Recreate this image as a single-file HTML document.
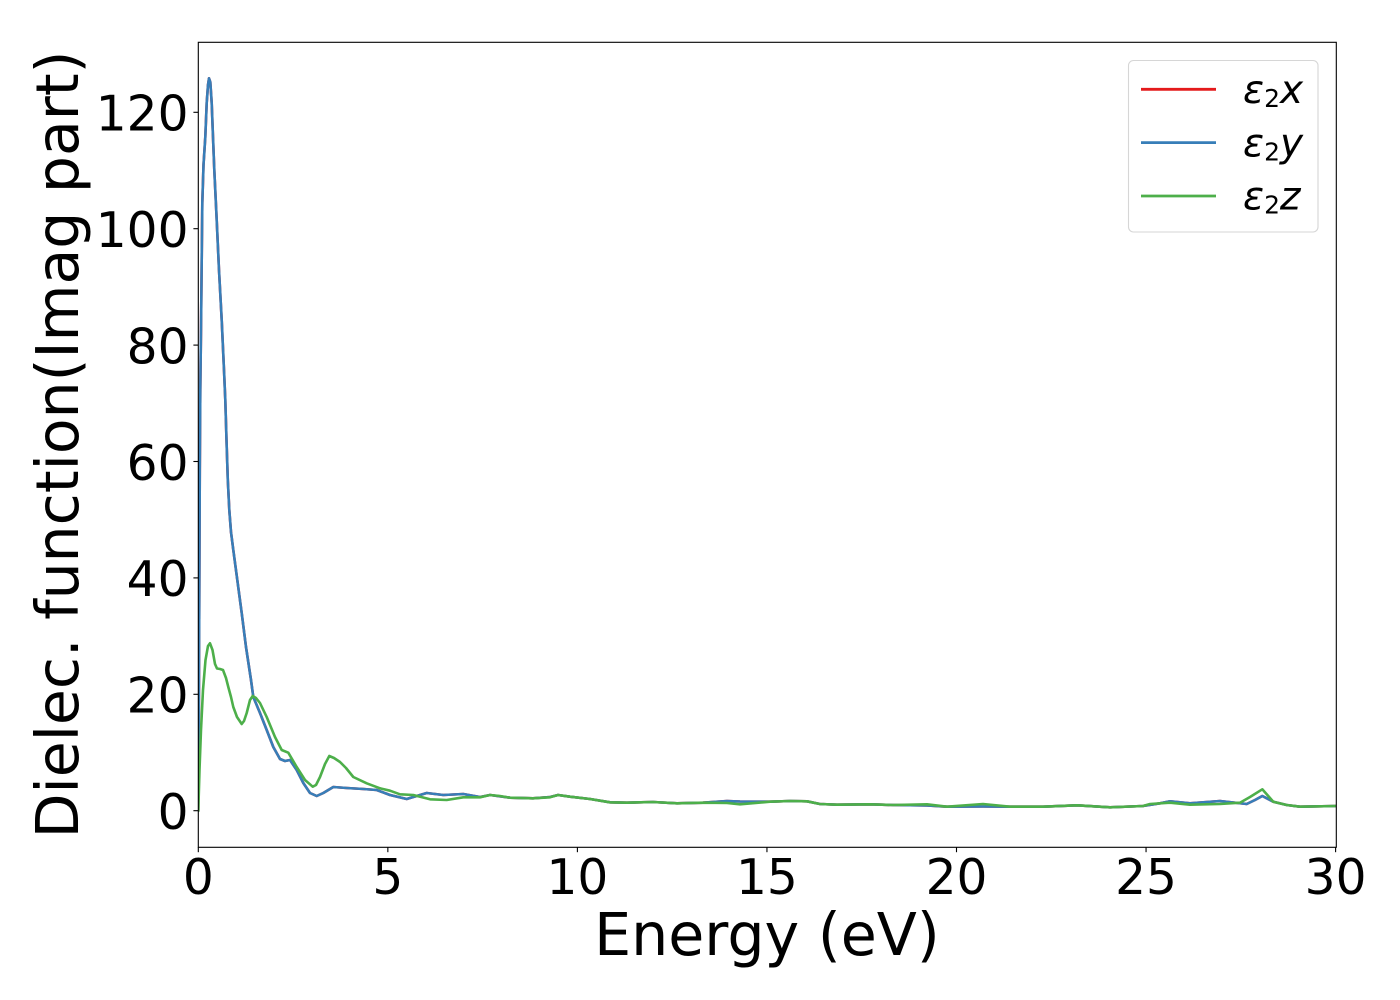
<!DOCTYPE html>
<html><head><meta charset="utf-8"><style>
html,body{margin:0;padding:0;background:#fff;}
svg{display:block;}
text{font-family:"DejaVu Sans","Liberation Sans",sans-serif;fill:#000;}
</style></head><body>
<svg width="1400" height="1000" viewBox="0 0 1400 1000" xmlns="http://www.w3.org/2000/svg">
<rect width="1400" height="1000" fill="#fff"/>
<defs><clipPath id="c"><rect x="198.3" y="42.3" width="1138" height="805"/></clipPath></defs>
<g clip-path="url(#c)" fill="none" stroke-width="2.6" stroke-linejoin="round" stroke-linecap="round">
<polyline stroke="#e41a1c" points="198.3,810.7 198.8,720 199.3,600 199.8,470 200.3,390 201,330 202.3,203 203.5,165 205.3,137 206.7,103 208,85 209,78.3 210.3,82 211.7,103 213,137 214.3,170 216.7,220 219,270 221.7,320 224,370 225.3,400 226.5,440 227.8,480 229.3,510 231,532 233.3,550 237.3,580 241.7,613 246,647 251,680 253.3,697 260,713 266.7,730 273.3,747 280,759 285,761 290,760 296.7,770 303.3,783 310,793 316.7,796 323.3,793 333.3,787 346.7,788 363.3,789 376.7,790 390,795 406.7,799 413.3,797 426.7,793 443.3,795 463.3,794 480,797 490,795 510,797.7 533,798.3 550,797 558,795 570,796.7 590,799 610,802.3 627,802.7 653,802 677,803.3 703,802.7 727,801 740,801.5 770,801.7 790,801 807,801.3 820,804 837,804.7 870,804.3 893,805 927,805.5 947,806.7 983,806.5 1010,806.7 1043,806.7 1077,805.3 1110,807.3 1143,806 1160,803.3 1170,801.3 1190,803.3 1220,801 1246.7,804 1255,800 1262.3,796 1273.3,801.7 1286.7,805 1300,806.7 1336.3,806"/>
<polyline stroke="#377eb8" points="198.3,810.7 198.8,720 199.3,600 199.8,470 200.3,390 201,330 202.3,203 203.5,165 205.3,137 206.7,103 208,85 209,78.3 210.3,82 211.7,103 213,137 214.3,170 216.7,220 219,270 221.7,320 224,370 225.3,400 226.5,440 227.8,480 229.3,510 231,532 233.3,550 237.3,580 241.7,613 246,647 251,680 253.3,697 260,713 266.7,730 273.3,747 280,759 285,761 290,760 296.7,770 303.3,783 310,793 316.7,796 323.3,793 333.3,787 346.7,788 363.3,789 376.7,790 390,795 406.7,799 413.3,797 426.7,793 443.3,795 463.3,794 480,797 490,795 510,797.7 533,798.3 550,797 558,795 570,796.7 590,799 610,802.3 627,802.7 653,802 677,803.3 703,802.7 727,801 740,801.5 770,801.7 790,801 807,801.3 820,804 837,804.7 870,804.3 893,805 927,805.5 947,806.7 983,806.5 1010,806.7 1043,806.7 1077,805.3 1110,807.3 1143,806 1160,803.3 1170,801.3 1190,803.3 1220,801 1246.7,804 1255,800 1262.3,796 1273.3,801.7 1286.7,805 1300,806.7 1336.3,806"/>
<polyline stroke="#4daf4a" points="198.3,810.7 199.5,770 201,730 203,690 205.5,660 208,646 210,643.3 212.5,650 215,664 217,668.5 220,669 223,670 226,678 228.3,687 231,697 233.3,707 237,717 241.7,724 244,721 246.7,713 250,700 252.7,696 256,698 260,703 266.7,717 275,737 281.7,750 288.3,752.7 296.7,767 305,780 312.7,786.7 316,785 320,777 325,764 329.3,756 334,758 340,762 346,768 353.3,777 366.7,783.3 380,788.3 390,790.7 400,794.3 413.3,795 430,799.3 446.7,800 463.3,797.3 480,797.3 490,795 500,796 510,797.7 533,798.3 550,797.3 558,795 570,796.7 590,799 610,802.3 627,802.7 653,802 677,803.3 703,802.7 727,803 740,804.3 770,801.7 790,801 807,801.3 820,804 837,804.7 870,804.3 893,805 927,804.3 947,806.7 983,804 1010,806.7 1043,806.7 1077,805.3 1110,807.3 1143,806 1150,804 1170,802.7 1190,804.7 1220,804 1240,802.7 1250,797 1262.3,789.3 1273.3,801.7 1286.7,805 1300,806.7 1336.3,806"/>
</g>
<rect x="198.3" y="42.3" width="1138" height="805" fill="none" stroke="#000" stroke-width="1.1"/>
<g stroke="#000" stroke-width="1.1">
<line x1="198.3" y1="847.3" x2="198.3" y2="852.2"/>
<line x1="387.85" y1="847.3" x2="387.85" y2="852.2"/>
<line x1="577.4" y1="847.3" x2="577.4" y2="852.2"/>
<line x1="766.95" y1="847.3" x2="766.95" y2="852.2"/>
<line x1="956.5" y1="847.3" x2="956.5" y2="852.2"/>
<line x1="1146.05" y1="847.3" x2="1146.05" y2="852.2"/>
<line x1="1335.6" y1="847.3" x2="1335.6" y2="852.2"/>
<line x1="193.4" y1="810.7" x2="198.3" y2="810.7"/>
<line x1="193.4" y1="694.3" x2="198.3" y2="694.3"/>
<line x1="193.4" y1="577.9" x2="198.3" y2="577.9"/>
<line x1="193.4" y1="461.5" x2="198.3" y2="461.5"/>
<line x1="193.4" y1="345.1" x2="198.3" y2="345.1"/>
<line x1="193.4" y1="228.7" x2="198.3" y2="228.7"/>
<line x1="193.4" y1="112.3" x2="198.3" y2="112.3"/>
</g>
<g font-size="48.6" text-anchor="middle">
<text x="198.3" y="894">0</text>
<text x="387.85" y="894">5</text>
<text x="577.4" y="894">10</text>
<text x="766.95" y="894">15</text>
<text x="956.5" y="894">20</text>
<text x="1146.05" y="894">25</text>
<text x="1335.6" y="894">30</text>
</g>
<g font-size="48.6" text-anchor="end">
<text x="188.5" y="829">0</text>
<text x="188.5" y="712.6">20</text>
<text x="188.5" y="596.2">40</text>
<text x="188.5" y="479.8">60</text>
<text x="188.5" y="363.4">80</text>
<text x="188.5" y="247">100</text>
<text x="188.5" y="130.6">120</text>
</g>
<text x="766.9" y="955" font-size="58.6" text-anchor="middle">Energy (eV)</text>
<text transform="translate(78,444.5) rotate(-90)" font-size="58.4" text-anchor="middle">Dielec. function(Imag part)</text>
<rect x="1128.5" y="60.5" width="189.5" height="171.5" rx="5" ry="5" fill="#fff" fill-opacity="0.8" stroke="#d6d6d6" stroke-width="1.1"/>
<g stroke-width="2.8">
<line x1="1141" y1="89.3" x2="1216" y2="89.3" stroke="#e41a1c"/>
<line x1="1141" y1="142.6" x2="1216" y2="142.6" stroke="#377eb8"/>
<line x1="1141" y1="196" x2="1216" y2="196" stroke="#4daf4a"/>
</g>
<g font-size="39">
<text x="1243" y="103"><tspan font-style="italic">ε</tspan><tspan font-size="25" dy="4">2</tspan><tspan font-style="italic" dy="-4">x</tspan></text>
<text x="1243" y="156.3"><tspan font-style="italic">ε</tspan><tspan font-size="25" dy="4">2</tspan><tspan font-style="italic" dy="-4">y</tspan></text>
<text x="1243" y="209.6"><tspan font-style="italic">ε</tspan><tspan font-size="25" dy="4">2</tspan><tspan font-style="italic" dy="-4">z</tspan></text>
</g>
</svg>
</body></html>
